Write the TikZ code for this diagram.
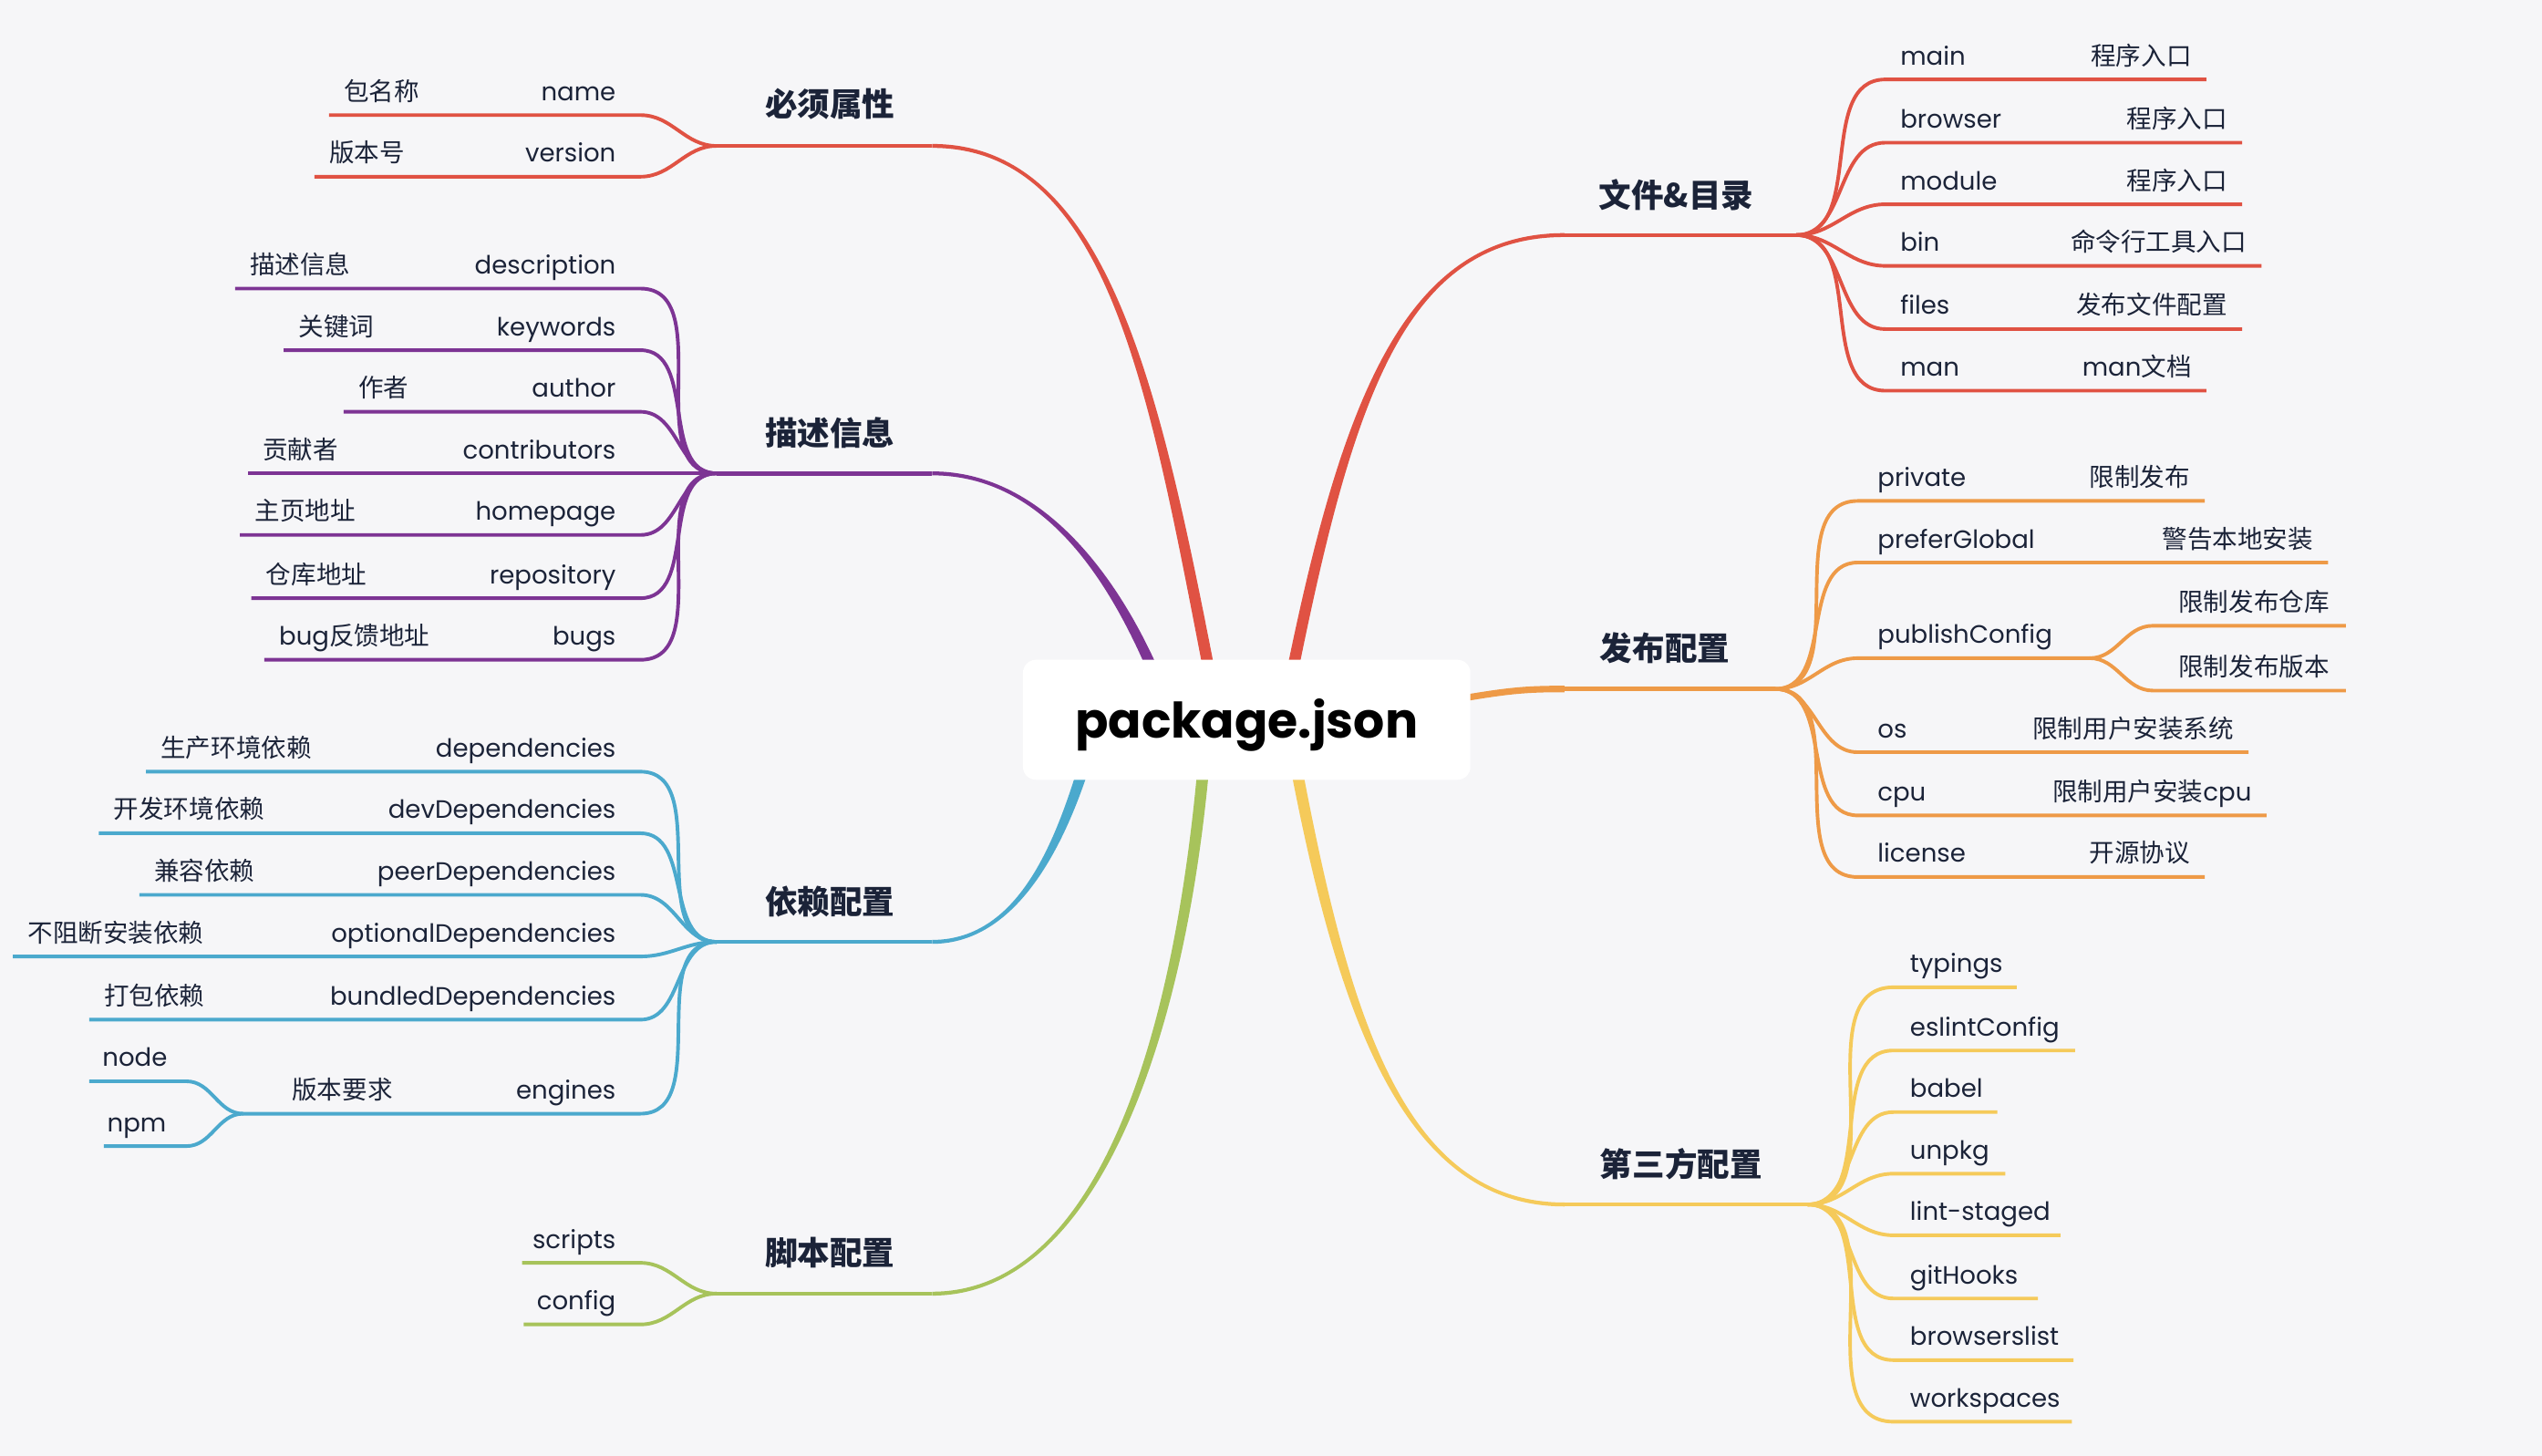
\documentclass[tikz,border=0pt]{standalone}
\usepackage{fontspec}
\setmainfont{Poppins}
\newfontfamily\cjk{Noto Sans CJK SC}
\usetikzlibrary{calc}
\definecolor{bgc}{HTML}{F6F6F8}
\definecolor{ink}{HTML}{1B2338}
\definecolor{cred}{HTML}{E05243}
\definecolor{cpurple}{HTML}{7D3494}
\definecolor{cblue}{HTML}{4BA9CD}
\definecolor{cgreen}{HTML}{A7C35B}
\definecolor{corange}{HTML}{EE9A47}
\definecolor{cyellow}{HTML}{F5CA5A}
\newcommand\lat[1]{{\rmfamily #1}}
\tikzset{
  leafline/.style={line width=2.2pt},
  stemline/.style={line width=2.6pt},
  keytxt/.style={font=\fontsize{15.5pt}{18pt}\selectfont, text=ink, inner sep=0pt},
  desctxt/.style={font=\cjk\fontsize{15.5pt}{18pt}\selectfont, text=ink, inner sep=0pt},
  brtxt/.style={font=\cjk\bfseries\fontsize{20pt}{24pt}\selectfont, text=ink, inner sep=0pt},
  roottxt/.style={font=\bfseries\fontsize{30.2pt}{36pt}\selectfont, text=black, fill=white, rounded corners=8pt, minimum width=276pt, minimum height=74pt, inner sep=0pt, text height=28pt, text depth=6pt},
}
% left leaf: id, color, junction, y, line-left x, key, desc
\newcommand\lleaf[7]{%
  \coordinate (#1c) at (395,#4);
  \coordinate (#1e) at (#5,#4);
  \draw[leafline,#2] (#3) to[out=180,in=0] (#1c) -- (#1e);
  \node[keytxt,anchor=base east] (#1k) at (380,#4-9) {#6};
  \if\relax\detokenize{#7}\relax\else
  \node[desctxt,anchor=base west] (#1d) at (#5+9,#4-9) {#7};\fi
}
% right leaf: id, color, junction, y, curve-end x, key x, line-end x, key, desc
\newcommand\rleaf[9]{%
  \coordinate (#1c) at (#5,#4);
  \coordinate (#1e) at (#7,#4);
  \draw[leafline,#2] (#3) to[out=0,in=180] (#1c) -- (#1e);
  \node[keytxt,anchor=base west] (#1k) at (#6,#4-9) {#8};
  \if\relax\detokenize{#9}\relax\else
  \node[desctxt,anchor=base east] (#1d) at (#7-9,#4-9) {#9};\fi
}
% tapered branch: color, start, end, ctrl1 (rel start), ctrl2 (rel end), half width at end (signed)
\newcommand\taper[6]{%
  \fill[#1] ($(#2)+(-3.6,0)$) .. controls +(#4) and +(#5) .. ($(#3)+(0,#6)$)
     -- ($(#3)+(0,{-1*(#6)})$) .. controls +(#5) and +(#4) .. ($(#2)+(3.6,0)$) -- cycle;
}
\begin{document}
\begin{tikzpicture}[x=1pt,y=-1pt]
\fill[bgc] (0,0) rectangle (1568,898);
\useasboundingbox (0,0) rectangle (1568,898);

% ---------- main branch coordinates
\coordinate (s1) at (748,425); \coordinate (e1) at (575,90);  \coordinate (j1) at (442,90);
\coordinate (s2) at (714,420); \coordinate (e2) at (575,292); \coordinate (j2) at (442,292);
\coordinate (s3) at (671,465); \coordinate (e3) at (575,581); \coordinate (j3) at (442,581);
\coordinate (s4) at (743,465); \coordinate (e4) at (575,798); \coordinate (j4) at (442,798);
\coordinate (s5) at (795,425); \coordinate (e5) at (965,145); \coordinate (j5) at (1108,145);
\coordinate (s6) at (895,432); \coordinate (e6) at (965,425); \coordinate (j6) at (1095,425);
\coordinate (s7) at (798,465); \coordinate (e7) at (965,743); \coordinate (j7) at (1115,743);

\taper{cred}{s1}{e1}{-35,-180}{110,0}{1.2}
\taper{cpurple}{s2}{e2}{-25,-60}{70,0}{1.2}
\taper{cblue}{s3}{e3}{-15,50}{55,0}{-1.2}
\taper{cgreen}{s4}{e4}{-15,180}{100,0}{-1.2}
\taper{cred}{s5}{e5}{35,-175}{-100,0}{-1.2}
\taper{cyellow}{s7}{e7}{30,160}{-100,0}{1.2}
\draw[corange,line width=4pt] (s6) .. controls +(35,-6) and +(-25,0) .. (e6);

\draw[stemline,cred] (e1) -- (j1);
\draw[stemline,cpurple] (e2) -- (j2);
\draw[stemline,cblue] (e3) -- (j3);
\draw[stemline,cgreen] (e4) -- (j4);
\draw[stemline,cred] (e5) -- (j5);
\draw[stemline,corange] (e6) -- (j6);
\draw[stemline,cyellow] (e7) -- (j7);

% ---------- branch labels
\node[brtxt] (b1) at (512,64) {必须属性};
\node[brtxt] (b2) at (512,267) {描述信息};
\node[brtxt] (b3) at (512,556) {依赖配置};
\node[brtxt] (b4) at (512,773) {脚本配置};
\node[brtxt] (b5) at (1034,120) {文件\&目录};
\node[brtxt] (b6) at (1027,400) {发布配置};
\node[brtxt] (b7) at (1037,718) {第三方配置};

% ---------- 必须属性
\lleaf{name}{cred}{j1}{71}{203}{name}{包名称}
\lleaf{ver}{cred}{j1}{109}{194}{version}{版本号}

% ---------- 描述信息
\lleaf{descr}{cpurple}{j2}{178}{145}{description}{描述信息}
\lleaf{kw}{cpurple}{j2}{216}{175}{keywords}{关键词}
\lleaf{auth}{cpurple}{j2}{254}{212}{author}{作者}
\lleaf{contrib}{cpurple}{j2}{292}{153}{contributors}{贡献者}
\lleaf{home}{cpurple}{j2}{330}{148}{homepage}{主页地址}
\lleaf{repo}{cpurple}{j2}{369}{155}{repository}{仓库地址}
\lleaf{bugs}{cpurple}{j2}{407}{163}{bugs}{\lat{bug}反馈地址}

% ---------- 依赖配置
\lleaf{dep}{cblue}{j3}{476}{90}{dependencies}{生产环境依赖}
\lleaf{dev}{cblue}{j3}{514}{61}{devDependencies}{开发环境依赖}
\lleaf{peer}{cblue}{j3}{552}{86}{peerDependencies}{兼容依赖}
\lleaf{opt}{cblue}{j3}{590}{8}{optionalDependencies}{不阻断安装依赖}
\lleaf{bund}{cblue}{j3}{629}{55}{bundledDependencies}{打包依赖}
\coordinate (engc) at (395,687); \coordinate (engj) at (150,687);
\draw[leafline,cblue] (j3) to[out=180,in=0] (engc) -- (engj);
\node[keytxt,anchor=base east] (engk) at (380,678) {engines};
\node[desctxt,anchor=base west] (engd) at (180,678) {版本要求};
\coordinate (nodc) at (115,667); \coordinate (node) at (55,667);
\draw[leafline,cblue] (engj) to[out=180,in=0] (nodc) -- (node);
\node[keytxt,anchor=base west] (nodk) at (63,658) {node};
\coordinate (npmc) at (115,707); \coordinate (npme) at (64,707);
\draw[leafline,cblue] (engj) to[out=180,in=0] (npmc) -- (npme);
\node[keytxt,anchor=base west] (npmk) at (66,698) {npm};

% ---------- 脚本配置
\lleaf{scr}{cgreen}{j4}{779}{322}{scripts}{}
\lleaf{cfg}{cgreen}{j4}{817}{323}{config}{}

% ---------- 文件&目录
\rleaf{main}{cred}{j5}{49}{1163}{1172}{1361}{main}{程序入口}
\rleaf{brow}{cred}{j5}{88}{1163}{1172}{1383}{browser}{程序入口}
\rleaf{mod}{cred}{j5}{126}{1163}{1172}{1383}{module}{程序入口}
\rleaf{bin}{cred}{j5}{164}{1163}{1172}{1395}{bin}{命令行工具入口}
\rleaf{files}{cred}{j5}{203}{1163}{1172}{1383}{files}{发布文件配置}
\rleaf{man}{cred}{j5}{241}{1163}{1172}{1361}{man}{\lat{man}文档}

% ---------- 发布配置
\rleaf{priv}{corange}{j6}{309}{1146}{1158}{1360}{private}{限制发布}
\rleaf{pref}{corange}{j6}{347}{1146}{1158}{1436}{preferGlobal}{警告本地安装}
\coordinate (pubc) at (1146,406); \coordinate (pubj) at (1289,406);
\draw[leafline,corange] (j6) to[out=0,in=180] (pubc) -- (pubj);
\node[keytxt,anchor=base west] (pubk) at (1158,397) {publishConfig};
\coordinate (prc) at (1328,386); \coordinate (pre) at (1447,386);
\draw[leafline,corange] (pubj) to[out=0,in=180] (prc) -- (pre);
\node[desctxt,anchor=base east] (prd) at (1437,377) {限制发布仓库};
\coordinate (pvc) at (1328,426); \coordinate (pve) at (1447,426);
\draw[leafline,corange] (pubj) to[out=0,in=180] (pvc) -- (pve);
\node[desctxt,anchor=base east] (pvd) at (1437,417) {限制发布版本};
\rleaf{os}{corange}{j6}{464}{1146}{1158}{1387}{os}{限制用户安装系统}
\rleaf{cpu}{corange}{j6}{503}{1146}{1158}{1398}{cpu}{限制用户安装\lat{cpu}}
\rleaf{lic}{corange}{j6}{541}{1146}{1158}{1360}{license}{开源协议}

% ---------- 第三方配置
\rleaf{typ}{cyellow}{j7}{609}{1168}{1178}{1244}{typings}{}
\rleaf{esl}{cyellow}{j7}{648}{1168}{1178}{1280}{eslintConfig}{}
\rleaf{bab}{cyellow}{j7}{686}{1168}{1178}{1232}{babel}{}
\rleaf{unp}{cyellow}{j7}{724}{1168}{1178}{1237}{unpkg}{}
\rleaf{lint}{cyellow}{j7}{762}{1168}{1178}{1271}{lint-staged}{}
\rleaf{gith}{cyellow}{j7}{801}{1168}{1178}{1257}{gitHooks}{}
\rleaf{bsl}{cyellow}{j7}{839}{1168}{1178}{1279}{browserslist}{}
\rleaf{wks}{cyellow}{j7}{877}{1168}{1178}{1278}{workspaces}{}

% ---------- root
\node[roottxt] (root) at (769,444) {package.json};
\end{tikzpicture}
\end{document}
